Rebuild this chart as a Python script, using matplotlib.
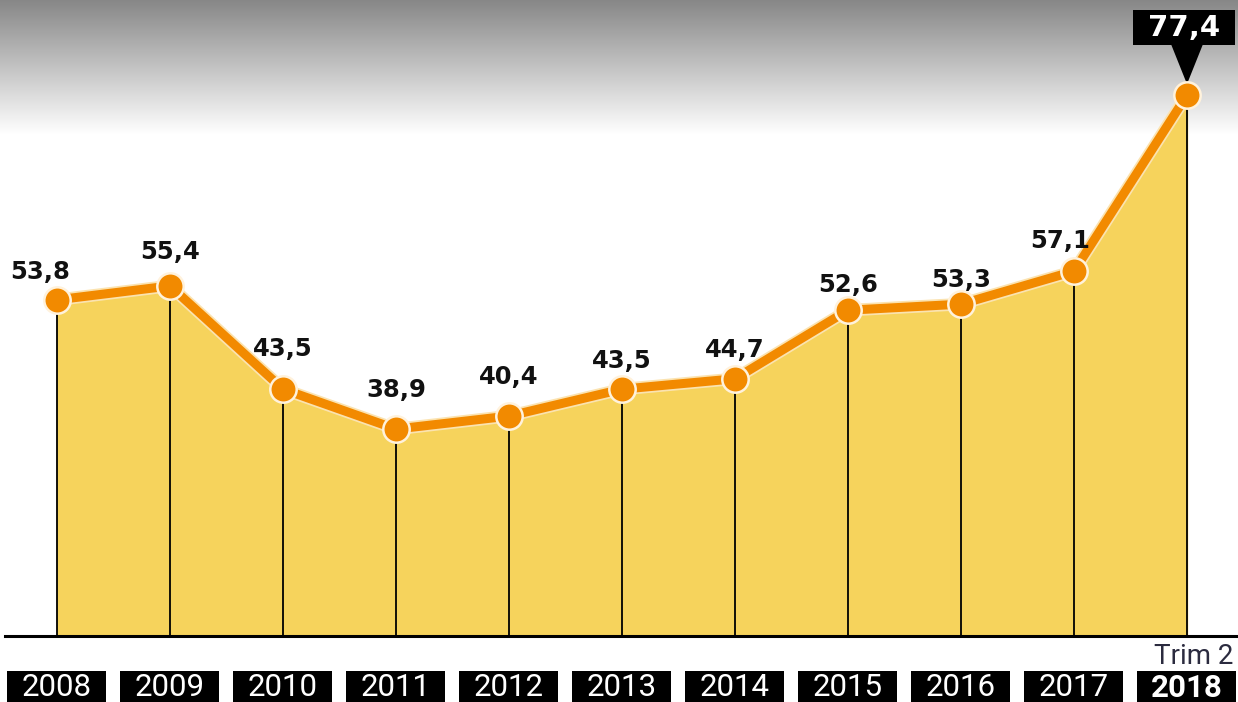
import matplotlib
matplotlib.use('Agg')
import matplotlib.pyplot as plt
from matplotlib.patches import Rectangle, Polygon
import numpy as np

# valores anuais (2018 = trimestre 2)
anos = [2008, 2009, 2010, 2011, 2012, 2013, 2014, 2015, 2016, 2017, 2018]
valores = [53.8, 55.4, 43.5, 38.9, 40.4, 43.5, 44.7, 52.6, 53.3, 57.1, 77.4]
rotulos_anos = [str(a) for a in anos]
nota_ultimo = 'Trim 2'

base = 15.0
amarelo = '#F6D35C'
laranja = '#F28A00'

W, H = 1238, 702
fig = plt.figure(figsize=(W / 100, H / 100), dpi=100)

# faixa cinza em degradê no topo
ax_bg = fig.add_axes([0, 1 - 135 / H, 1, 135 / H])
grad = np.linspace(0.53, 1.0, 256).reshape(-1, 1)
ax_bg.imshow(grad, aspect='auto', cmap='gray', vmin=0, vmax=1, extent=[0, 1, 1, 0])
ax_bg.axis('off')

ax = fig.add_axes([0, 0, 1, 1])
ax.patch.set_alpha(0)
ax.set_xlim(2008 - 57 / 113, 2008 + (W - 57) / 113)
ax.set_ylim(7.44, 88.36)
ax.axis('off')

# conversão de pixels para unidades dos dados
x0, x1 = ax.get_xlim()
y0, y1 = ax.get_ylim()
def px_x(p):
    return p * (x1 - x0) / W
def px_y(p):
    return p * (y1 - y0) / H

# área preenchida e linhas verticais
ax.fill_between(anos, valores, base, color=amarelo, zorder=1)
for a, v in zip(anos, valores):
    ax.plot([a, a], [base, v], color='black', lw=1.3, zorder=2)
ax.plot([x0 + px_x(5), x1], [base, base], color='black', lw=2.2, zorder=3)

# linha e marcadores
ax.plot(anos, valores, color='#FBE3B0', lw=9, solid_capstyle='round', zorder=4)
ax.plot(anos, valores, color=laranja, lw=6.5, solid_capstyle='round', zorder=5)
ax.plot(anos, valores, 'o', color=laranja, markersize=19, markeredgecolor='#FFF2DC',
        markeredgewidth=1.8, zorder=6)

# rótulos de valor
desloc = {2008: (-17, 28), 2009: (0, 34), 2010: (0, 40), 2011: (0, 39), 2012: (0, 39),
          2013: (0, 28), 2014: (0, 29), 2015: (0, 25), 2016: (0, 24), 2017: (-14, 30)}
for a, v in zip(anos[:-1], valores[:-1]):
    dx, dy = desloc[a]
    ax.text(a + px_x(dx), v + px_y(dy), f'{v:.1f}'.replace('.', ','),
            ha='center', va='center', fontsize=17.5, fontweight='bold',
            family='DejaVu Sans', color='#111111', zorder=7)

# destaque do último valor com caixa preta e seta
ult_a, ult_v = anos[-1], valores[-1]
cx = ult_a - px_x(3)
topo = ult_v + px_y(85)
fundo = ult_v + px_y(50)
ax.add_patch(Rectangle((cx - px_x(51), fundo), px_x(102), topo - fundo,
                       fc='black', ec='none', zorder=7))
ax.add_patch(Polygon([(ult_a - px_x(16), fundo + px_y(1)), (ult_a + px_x(16), fundo + px_y(1)),
                      (ult_a, ult_v + px_y(11))], closed=True, fc='black', ec='none', zorder=5.5))
ax.text(cx, (topo + fundo) / 2, f'{ult_v:.1f}'.replace('.', ','), ha='center', va='center',
        fontsize=21, fontweight='bold', family='DejaVu Sans', color='white', zorder=8)

# rótulos dos anos em caixas pretas
caixa_topo = y0 + px_y(702 - 671)
for i, (a, r) in enumerate(zip(anos, rotulos_anos)):
    ax.add_patch(Rectangle((a - px_x(49.5), y0), px_x(99), caixa_topo - y0,
                           fc='black', ec='none', zorder=7))
    ax.text(a, y0 + px_y(702 - 688), r, ha='center', va='center', fontsize=22.5,
            family='Roboto', fontweight='bold' if i == len(anos) - 1 else 'normal',
            color='white', zorder=8)
ax.text(x0 + px_x(1233), y0 + px_y(702 - 656), nota_ultimo, ha='right', va='center',
        fontsize=20, family='Roboto', color='#2B2B3F')

fig.savefig('out.png', dpi=100)
